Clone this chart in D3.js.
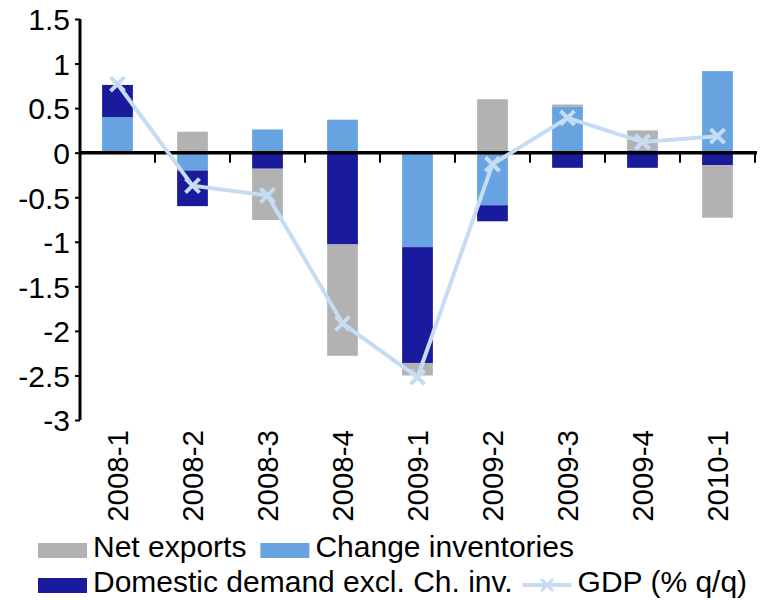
<!DOCTYPE html>
<html><head><meta charset="utf-8">
<script src="https://cdn.jsdelivr.net/npm/d3@7"></script>
<style>body{margin:0;background:#fff}svg{display:block}text{font-family:"Liberation Sans",Arial,sans-serif;fill:#000}</style>
</head><body><svg id="c" width="773" height="600"></svg>
<script>
const categories = ["2008-1","2008-2","2008-3","2008-4","2009-1","2009-2","2009-3","2009-4","2010-1"];
const changeInventories = [0.40, -0.20, 0.26, 0.37, -1.06, -0.59, 0.52, 0.035, 0.915];
const domesticDemand = [0.36, -0.40, -0.18, -1.03, -1.30, -0.18, -0.17, -0.17, -0.14];
const netExports = [0.0, 0.235, -0.575, -1.25, -0.14, 0.60, 0.02, 0.215, -0.59];
const gdp = [0.77, -0.37, -0.48, -1.915, -2.52, -0.13, 0.39, 0.12, 0.185];
const yTicks = [1.5, 1, 0.5, 0, -0.5, -1, -1.5, -2, -2.5, -3];
const seriesNames = ["Net exports","Change inventories","Domestic demand excl. Ch. inv.","GDP (% q/q)"];
const colors = {net:"#b2b2b2", inv:"#66a3e0", dom:"#1a1a9c", gdp:"#c6dcf3"};

const svg = d3.select("#c");
const x = d3.scaleBand().domain(categories).range([80,755]).paddingInner(0.59).paddingOuter(0.295);
const y = d3.scaleLinear().domain([-3,1.5]).range([420,19]);

const table = categories.map((c,i)=>({cat:c, inv:changeInventories[i], dom:domesticDemand[i], net:netExports[i]}));
const stack = d3.stack().keys(["inv","dom","net"]).offset(d3.stackOffsetDiverging);
const layers = stack(table);

svg.append("g").selectAll("g").data(layers).join("g")
  .attr("fill", d=>colors[d.key])
  .selectAll("rect").data(d=>d).join("rect")
  .attr("x", d=>x(d.data.cat))
  .attr("width", x.bandwidth())
  .attr("y", d=>y(Math.max(d[0],d[1])))
  .attr("height", d=>Math.abs(y(d[0])-y(d[1])));

// y axis
const yAxis = svg.append("g").attr("transform","translate(80,0)")
  .call(d3.axisLeft(y).tickValues(yTicks).tickFormat(d=>String(d)).tickSize(5).tickPadding(5));
yAxis.select(".domain").attr("stroke","#000").attr("stroke-width",3).attr("d","M0,19V420");
yAxis.selectAll(".tick line").attr("stroke","#000").attr("stroke-width",2);
yAxis.selectAll(".tick text").attr("font-size",30).attr("font-family","Liberation Sans, Arial, sans-serif").attr("fill","#000").attr("dy","0.36em");

// x axis at zero
const y0 = y(0);
const step = x.step();
const xAxisG = svg.append("g");
xAxisG.append("line").attr("x1",80).attr("x2",757).attr("y1",y0).attr("y2",y0).attr("stroke","#000").attr("stroke-width",3.5);
xAxisG.selectAll("line.tk").data(categories).join("line").attr("class","tk")
  .attr("x1",(d)=>x(d)+x.bandwidth()/2+step/2).attr("x2",(d)=>x(d)+x.bandwidth()/2+step/2)
  .attr("y1",y0).attr("y2",y0+10).attr("stroke","#000").attr("stroke-width",2);

// x labels
svg.append("g").selectAll("text").data(categories).join("text")
  .attr("transform", d=>`translate(${x(d)+x.bandwidth()/2+10},430) rotate(-90)`)
  .attr("text-anchor","end").attr("font-size",29.5).text(d=>d);

// GDP line
const cx = (d,i)=>x(categories[i])+x.bandwidth()/2;
svg.append("path").datum(gdp)
  .attr("fill","none").attr("stroke",colors.gdp).attr("stroke-width",4)
  .attr("d", d3.line().x((d,i)=>cx(d,i)).y(d=>y(d)));
const m = 7;
svg.append("g").selectAll("path").data(gdp).join("path")
  .attr("stroke",colors.gdp).attr("stroke-width",4).attr("fill","none")
  .attr("d",(d,i)=>{const px=cx(d,i), py=y(d); return `M${px-m},${py-m}L${px+m},${py+m}M${px-m},${py+m}L${px+m},${py-m}`;});

// legend
const leg = svg.append("g");
function swatchItem(x0, yb, color, label){
  leg.append("rect").attr("x",x0).attr("y",yb-14).attr("width",49).attr("height",15).attr("fill",color);
  const t = leg.append("text").attr("x",x0+55).attr("y",yb).attr("font-size",30).text(label);
  return x0+55+t.node().getComputedTextLength();
}
let e1 = swatchItem(38,557,colors.net,seriesNames[0]);
swatchItem(e1+14,557,colors.inv,seriesNames[1]);
let e2 = swatchItem(38,592,colors.dom,seriesNames[2]);
const lx = e2+10;
leg.append("line").attr("x1",lx).attr("x2",lx+49).attr("y1",585).attr("y2",585).attr("stroke",colors.gdp).attr("stroke-width",4);
const mx = lx+24.5, my=585, mm=6;
leg.append("path").attr("stroke",colors.gdp).attr("stroke-width",3).attr("fill","none")
  .attr("d",`M${mx-mm},${my-mm}L${mx+mm},${my+mm}M${mx-mm},${my+mm}L${mx+mm},${my-mm}`);
leg.append("text").attr("x",lx+55).attr("y",592).attr("font-size",30).text(seriesNames[3]);
</script></body></html>
